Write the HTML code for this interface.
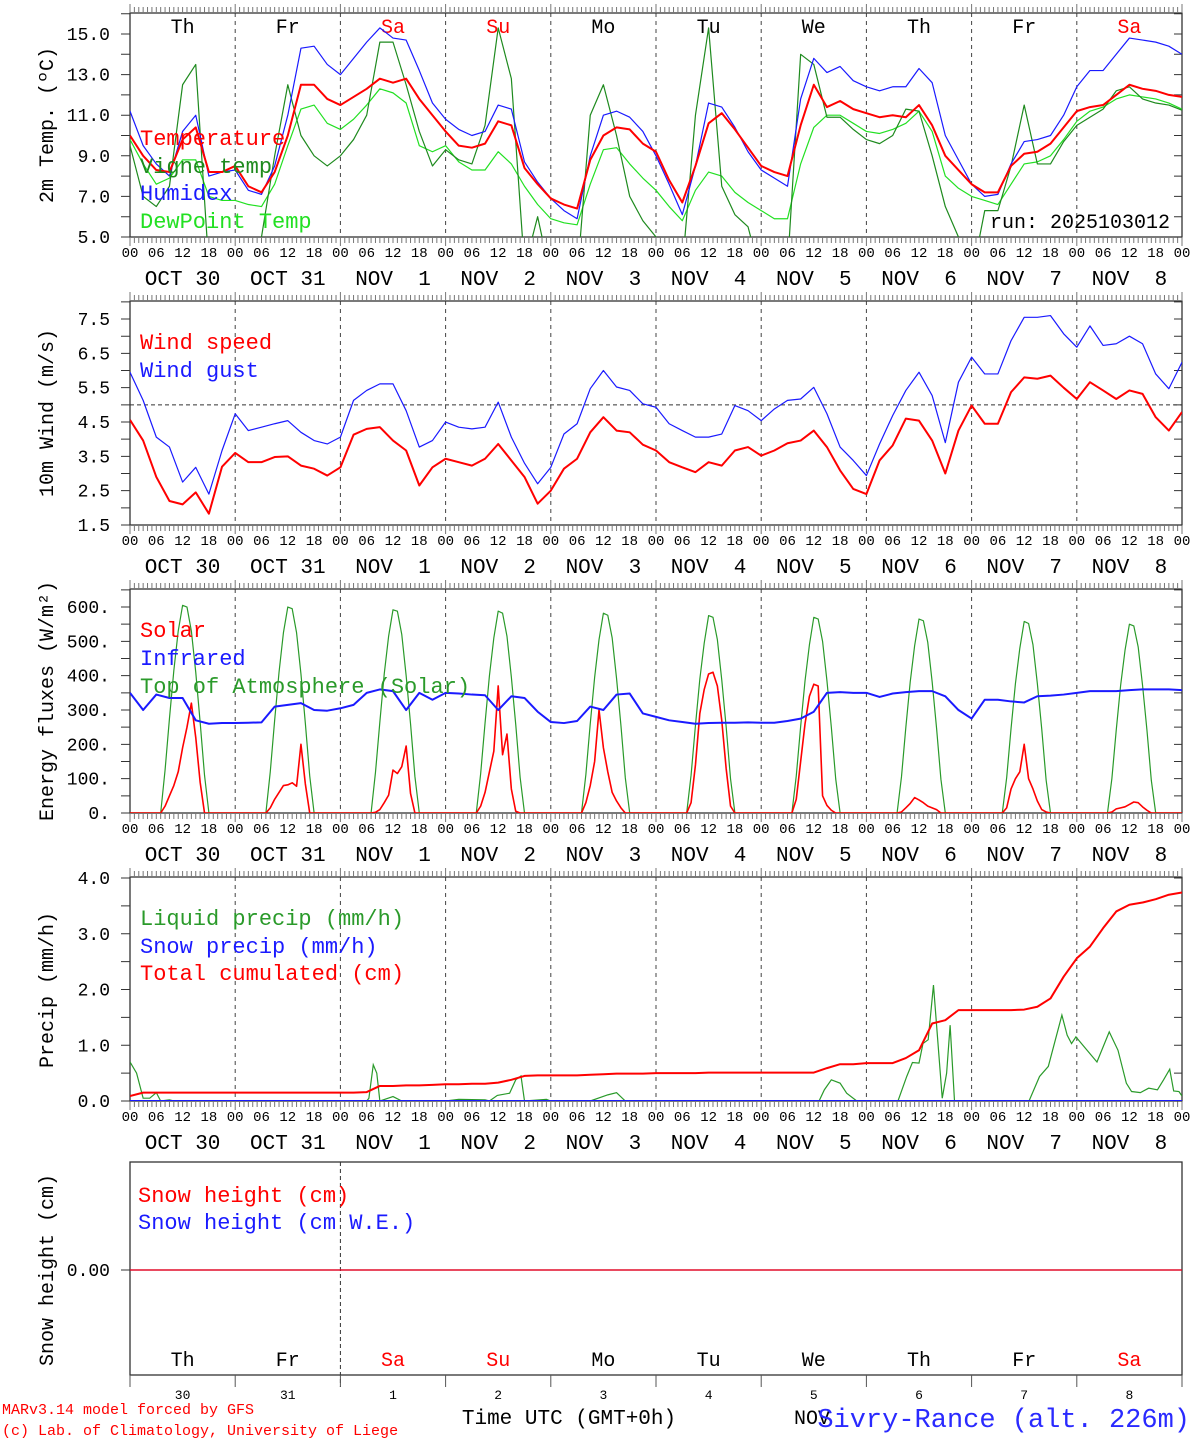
<!DOCTYPE html>
<html><head><meta charset="utf-8"><title>MAR forecast Sivry-Rance</title>
<style>
html,body{margin:0;padding:0;background:#fff;}
svg{display:block;}
text{font-family:"Liberation Mono","DejaVu Sans Mono",monospace;}
</style></head>
<body>
<svg id="chart" xmlns="http://www.w3.org/2000/svg" width="1194" height="1440" viewBox="0 0 1194 1440"></svg>
<script>
// ---------- DATA (3-hourly, 00 UTC Oct 30 .. 00 UTC Nov 9) ----------
const dayNames = ["Th","Fr","Sa","Su","Mo","Tu","We","Th","Fr","Sa"];
const dayNums = ["30","31","1","2","3","4","5","6","7","8"];
const dateLabels = ["OCT 30","OCT 31","NOV  1","NOV  2","NOV  3","NOV  4","NOV  5","NOV  6","NOV  7","NOV  8"];
const hourTicks = ["00","06","12","18"];
const tempVals = [10.0,9.0,8.3,8.2,9.8,10.4,8.2,8.2,
 8.5,7.5,7.2,8.2,10.0,12.5,12.5,11.8,
 11.5,11.9,12.3,12.8,12.6,12.8,11.8,11.0,
 10.2,9.5,9.4,9.6,10.7,10.5,8.4,7.6,
 6.9,6.6,6.4,8.8,10.0,10.4,10.3,9.6,
 9.2,7.8,6.7,8.5,10.6,11.1,10.3,9.4,
 8.5,8.2,8.0,10.5,12.5,11.4,11.7,11.3,
 11.1,10.9,11.0,10.9,11.5,10.5,9.0,8.3,
 7.6,7.2,7.2,8.5,9.1,9.2,9.6,10.4,
 11.2,11.4,11.5,12.0,12.5,12.3,12.2,12.0,11.9];
const vigneVals = [9.5,7.0,6.5,7.5,12.5,13.5,3.5,2.5,
 2.0,3.0,5.0,9.0,12.5,10.0,9.0,8.5,
 9.0,9.8,11.0,14.6,14.6,12.5,10.2,8.5,
 9.3,8.8,8.6,10.5,15.3,12.8,3.5,6.0,
 3.0,2.5,3.0,11.0,12.5,10.0,7.0,5.8,
 5.0,3.0,3.5,11.0,15.3,7.5,6.1,5.5,
 3.0,2.5,3.5,14.0,13.5,10.9,10.9,10.3,
 9.8,9.6,10.0,11.3,11.2,9.0,6.5,5.0,
 3.0,6.3,6.3,8.5,11.5,8.6,8.6,9.7,
 10.5,10.9,11.3,12.2,12.4,11.8,11.6,11.5,11.25];
const humidexVals = [11.2,9.5,8.6,8.0,10.2,11.0,8.0,8.2,
 8.3,7.3,7.1,8.5,11.0,14.3,14.4,13.5,
 13.0,13.8,14.6,15.3,14.8,14.7,13.2,11.6,
 10.8,10.3,10.0,10.2,11.5,11.3,8.7,7.7,
 6.9,6.3,5.9,9.0,11.0,11.2,10.9,10.2,
 9.0,7.6,6.1,8.5,11.6,11.4,10.4,9.2,
 8.3,7.9,7.5,11.8,13.8,13.1,13.4,12.7,
 12.4,12.2,12.4,12.4,13.3,12.6,10.0,8.8,
 7.6,7.0,7.1,8.6,9.7,9.8,10.0,11.0,
 12.4,13.2,13.2,14.0,14.8,14.7,14.6,14.4,14.0];
const dewVals = [9.8,8.6,7.6,7.9,8.8,8.8,7.0,6.8,
 6.8,6.6,6.5,7.6,9.5,11.3,11.5,10.6,
 10.3,10.8,11.5,12.3,12.1,11.6,9.5,9.2,
 9.5,8.7,8.3,8.3,9.2,8.6,7.5,6.6,
 5.9,5.7,5.6,7.6,9.3,9.4,8.6,7.9,
 7.3,6.5,5.8,7.3,8.2,8.0,7.2,6.7,
 6.3,5.9,5.9,8.6,10.4,11.0,11.0,10.6,
 10.2,10.1,10.3,10.6,11.2,10.2,8.0,7.4,
 7.0,6.8,6.6,7.6,8.6,8.7,9.0,9.8,
 10.7,11.2,11.4,11.8,12.0,11.9,11.8,11.6,11.3];
const windVals = [4.56,3.96,2.9,2.2,2.1,2.45,1.83,3.2,
 3.6,3.33,3.33,3.48,3.5,3.23,3.14,2.94,
 3.18,4.13,4.3,4.35,3.96,3.67,2.65,3.18,
 3.43,3.33,3.23,3.43,3.86,3.38,2.9,2.12,
 2.5,3.14,3.43,4.2,4.64,4.25,4.2,3.84,
 3.67,3.33,3.18,3.04,3.33,3.23,3.67,3.77,
 3.52,3.67,3.88,3.96,4.25,3.77,3.09,2.55,
 2.4,3.38,3.82,4.6,4.54,3.96,3.0,4.25,
 4.98,4.45,4.45,5.37,5.8,5.76,5.85,5.5,
 5.17,5.66,5.42,5.17,5.42,5.32,4.64,4.25,4.79];
const gustVals = [5.95,5.13,4.06,3.77,2.75,3.18,2.4,3.67,
 4.74,4.25,4.35,4.45,4.54,4.2,3.96,3.86,
 4.06,5.13,5.42,5.61,5.61,4.83,3.77,3.96,
 4.5,4.35,4.3,4.35,5.08,4.06,3.3,2.7,
 3.18,4.15,4.45,5.47,6.0,5.52,5.42,5.03,
 4.93,4.45,4.25,4.06,4.06,4.15,4.98,4.83,
 4.54,4.88,5.13,5.17,5.51,4.74,3.77,3.38,
 2.94,3.86,4.69,5.42,5.95,5.27,3.9,5.66,
 6.39,5.9,5.9,6.87,7.55,7.55,7.6,7.07,
 6.68,7.3,6.73,6.78,7.0,6.78,5.9,5.47,6.24];
const irVals = [350,300,345,335,335,270,260,262,
 262,263,264,310,315,320,300,298,
 305,315,350,360,355,300,350,330,
 350,348,345,343,300,340,335,295,
 265,262,268,310,300,345,348,290,
 280,270,265,260,262,263,263,264,
 263,263,268,275,295,350,352,350,
 350,338,348,352,355,355,340,300,
 275,330,330,325,322,340,342,345,
 350,355,355,355,358,360,360,360,358];
const cumVals = [0.09,0.15,0.15,0.15,0.15,0.15,0.15,0.15,
 0.15,0.15,0.15,0.15,0.15,0.15,0.15,0.15,
 0.15,0.15,0.16,0.27,0.27,0.28,0.28,0.29,
 0.30,0.30,0.31,0.31,0.33,0.38,0.45,0.46,
 0.46,0.46,0.46,0.47,0.48,0.49,0.49,0.49,
 0.50,0.50,0.50,0.50,0.51,0.51,0.51,0.51,
 0.51,0.51,0.51,0.51,0.51,0.59,0.66,0.66,
 0.68,0.68,0.68,0.77,0.91,1.39,1.45,1.63,
 1.63,1.63,1.63,1.63,1.64,1.69,1.84,2.23,
 2.56,2.77,3.10,3.40,3.52,3.56,3.62,3.70,3.74];
// daily series (00 UTC each day, 11 values)
const snowPrecipVals = [0,0,0,0,0,0,0,0,0,0,0];
const snowHeightVals = [0,0,0,0,0,0,0,0,0,0,0];
const snowWEVals = [0,0,0,0,0,0,0,0,0,0,0];
// hourly daytime radiation, hours 07..18 of each day (W/m2)
const solarDays = [
 [0,20,50,80,120,190,250,320,220,90,0,0],
 [0,15,40,60,80,82,88,78,200,85,0,0],
 [0,2,10,30,52,125,115,135,195,57,0,0],
 [0,20,60,120,180,370,170,230,70,5,0,0],
 [0,30,80,150,300,190,120,60,35,15,0,0],
 [0,30,140,290,360,405,410,370,270,130,20,0],
 [0,40,150,260,340,375,370,50,22,8,0,0],
 [0,3,15,28,45,38,30,20,15,10,0,0],
 [0,15,70,100,120,200,100,70,35,10,3,0],
 [0,3,12,15,18,25,32,30,18,8,0,0]];
const toaDays = [
 [0,125,275,415,530,605,600,530,410,265,110,0],
 [0,120,270,410,525,600,595,525,405,262,108,0],
 [0,118,265,405,515,592,588,520,400,260,106,0],
 [0,115,262,400,510,588,582,515,396,258,104,0],
 [0,112,260,395,505,582,576,510,392,255,102,0],
 [0,110,255,390,495,575,570,505,388,252,100,0],
 [0,108,252,385,490,570,565,500,385,250,99,0],
 [0,105,250,382,487,565,560,497,382,248,98,0],
 [0,103,246,377,480,558,552,490,377,245,96,0],
 [0,100,242,372,474,550,545,484,372,242,95,0]];
// liquid precipitation (hour since start, mm/h)
const liqHours = [0,1.5,3,4.5,6,7,9,10,54,54.5,55.5,56.3,57,60,62,72,75,81,82,83.8,86.6,88,89.2,90,95,96,105,109,111,113,157.2,158.4,160,162,163.5,165.8,175.2,177.2,178.5,180,180.9,182.1,183.3,185.3,186.3,187.1,188.1,205.1,207.5,209.5,212.6,213.8,214.8,215.8,217.7,220.6,223.4,225.4,227.3,228.5,230.5,232.4,234.4,235.8,237.2,238.1,239.3,240];
const liqVals = [0.70,0.5,0.05,0.05,0.15,0,0.02,0,0,0.05,0.65,0.5,0,0.08,0,0,0.03,0.02,0,0.1,0.14,0.38,0.45,0,0.03,0,0,0.11,0.15,0,0,0.2,0.38,0.32,0.14,0,0,0.44,0.69,0.68,1.03,1.1,2.08,0.05,0.5,1.36,0,0,0.44,0.62,1.54,1.18,1.03,1.15,0.97,0.7,1.24,0.91,0.32,0.17,0.15,0.23,0.2,0.38,0.57,0.18,0.17,0.09];

// ---------- LAYOUT ----------
const NS = "http://www.w3.org/2000/svg";
const svg = document.getElementById("chart");
const X0 = 130, X1 = 1182, HOURS = 240;
function xs(h){ return X0 + h*(X1-X0)/HOURS; }
const panels = {
  temp:  {top:13,  bottom:237, y:v=>237-(v-5)*20.3},
  wind:  {top:301, bottom:525, y:v=>525-(v-1.5)*34.33},
  energy:{top:589, bottom:813, y:v=>813-v*0.3433},
  precip:{top:877, bottom:1101,y:v=>1101-v*55.75},
  snow:  {top:1162,bottom:1375,y:v=>1270-v*50}
};
function mk(tag, attrs, parent){
  const el = document.createElementNS(NS, tag);
  for (const k in attrs) el.setAttribute(k, attrs[k]);
  (parent||svg).appendChild(el);
  return el;
}
function txt(str, x, y, size, fill, anchor, parent){
  const t = mk("text", {x:x, y:y, "font-size":size, fill:fill||"#000", "text-anchor":anchor||"start"}, parent);
  t.textContent = str;
  return t;
}
// clip paths
const defs = mk("defs", {});
for (const key in panels){
  const p = panels[key];
  const cp = mk("clipPath", {id:"clip-"+key}, defs);
  mk("rect", {x:X0, y:p.top, width:X1-X0, height:p.bottom-p.top}, cp);
}

function drawFrame(key, withTimeLabels){
  const p = panels[key];
  const g = mk("g", {});
  
  
  // day dashed separators
  for (let d=1; d<10; d++){
    const l = mk("line", {x1:xs(d*24), x2:xs(d*24), y1:p.top, y2:p.bottom, stroke:"#444", "stroke-width":1, "stroke-dasharray":"4,4"}, g);
    
    
  }
  // box
  const r = mk("rect", {x:X0, y:p.top, width:X1-X0, height:p.bottom-p.top, fill:"none", stroke:"#333", "stroke-width":1.3}, g);
  
  
  // hourly ticks top & bottom (outward)
  let dTop = "", dBot = "";
  for (let h=0; h<=HOURS; h++){
    const x = xs(h).toFixed(2);
    const len = (h%24===0) ? 9 : 6;
    dTop += "M"+x+" "+p.top+"V"+(p.top-len);
    dBot += "M"+x+" "+p.bottom+"V"+(p.bottom+len);
  }
  const tt = mk("path", {d:dTop, stroke:"#777", "stroke-width":1, fill:"none"}, g);
  
  
  const tb = mk("path", {d:dBot, stroke:"#777", "stroke-width":1, fill:"none"}, g);
  
  
  if (withTimeLabels){
    for (let d=0; d<=10; d++){
      for (let k=0; k<4; k++){
        if (d===10 && k>0) break;
        const t = txt(hourTicks[k], xs(d*24+k*6), p.bottom+20, 14, "#000", "middle", g);
        
        
      }
    }
    for (let d=0; d<10; d++){
      const t = txt(dateLabels[d], xs(d*24+12), p.bottom+48, 21, "#000", "middle", g);
      t.setAttribute("xml:space","preserve");
      t.style.whiteSpace = "pre";
      
      
    }
  }
}
function drawYAxis(key, ticks, labels, minorStep, minV, maxV, title, titleY){
  const p = panels[key];
  let d = "", dr = "";
  for (let v=minV; v<=maxV+1e-9; v+=minorStep){
    const y = p.y(v).toFixed(2);
    d += "M"+X0+" "+y+"H"+(X0-9);
    dr += "M"+X1+" "+y+"H"+(X1-8);
  }
  const tl = mk("path", {d:d, stroke:"#333", "stroke-width":1, fill:"none"});
  
  
  const tr = mk("path", {d:dr, stroke:"#333", "stroke-width":1, fill:"none"});
  
  
  for (let i=0; i<ticks.length; i++){
    const t = txt(labels[i], 110, p.y(ticks[i])+6, 18, "#000", "end");
    
    
  }
  const tt = txt(title, 0, 0, 20, "#000", "middle");
  tt.setAttribute("transform", "translate(53,"+titleY+") rotate(-90)");
  
  
  return tt;
}
function line3(key, vals, color, width, name){
  const p = panels[key];
  const pts = vals.map((v,i)=> xs(i*3).toFixed(2)+","+p.y(v).toFixed(2)).join(" ");
  const pl = mk("polyline", {points:pts, fill:"none", stroke:color, "stroke-width":width, "stroke-linejoin":"round", "clip-path":"url(#clip-"+key+")"});
  
  
}
function lineDaily(key, vals, color, width, name){
  const p = panels[key];
  const pts = vals.map((v,i)=> xs(i*24).toFixed(2)+","+p.y(v).toFixed(2)).join(" ");
  const pl = mk("polyline", {points:pts, fill:"none", stroke:color, "stroke-width":width, "clip-path":"url(#clip-"+key+")"});
  
  
}
function lineDays(key, days, color, width, name){
  const p = panels[key];
  const pts = [xs(0).toFixed(2)+","+p.y(0).toFixed(2)];
  days.forEach((row,d)=> row.forEach((v,i)=> pts.push(xs(d*24+7+i).toFixed(2)+","+p.y(v).toFixed(2))));
  pts.push(xs(HOURS).toFixed(2)+","+p.y(0).toFixed(2));
  const pl = mk("polyline", {points:pts.join(" "), fill:"none", stroke:color, "stroke-width":width, "stroke-linejoin":"round", "clip-path":"url(#clip-"+key+")"});
  
  
}
function legend(str, x, y, color, name){
  const t = txt(str, x, y, 22, color, "start");
  
  
}

// ---------- PANEL 1: temperature ----------
drawFrame("temp", true);
drawYAxis("temp", [5,7,9,11,13,15], ["5.0","7.0","9.0","11.0","13.0","15.0"], 1, 5, 16, "2m Temp. (ºC)", 125);
for (let d=0; d<10; d++){
  const wk = (dayNames[d]==="Sa"||dayNames[d]==="Su");
  const t = txt(dayNames[d], xs(d*24+12), 33, 20, wk?"#ff0000":"#000", "middle");
  
  
}
line3("temp", dewVals, "#22e022", 1.2, "dewpoint-line");
line3("temp", vigneVals, "#1e8a1e", 1.2, "vigne-temp-line");
line3("temp", humidexVals, "#1a1aff", 1.2, "humidex-line");
line3("temp", tempVals, "#ff0000", 2, "temperature-line");
legend("Temperature", 140, 145, "#ff0000", "legend-temperature");
legend("Vigne temp", 140, 173, "#1e8a1e", "legend-vigne-temp");
legend("Humidex", 140, 200, "#1a1aff", "legend-humidex");
legend("DewPoint Temp", 140, 228, "#22e022", "legend-dewpoint");
const run = txt("run: 2025103012", 1170, 228, 20, "#000", "end");



// ---------- PANEL 2: wind ----------
drawFrame("wind", true);
drawYAxis("wind", [1.5,2.5,3.5,4.5,5.5,6.5,7.5], ["1.5","2.5","3.5","4.5","5.5","6.5","7.5"], 0.5, 1.5, 8.0, "10m Wind (m/s)", 413);
const ref = mk("line", {x1:X0, x2:X1, y1:panels.wind.y(5), y2:panels.wind.y(5), stroke:"#333", "stroke-width":1, "stroke-dasharray":"4,3"});


line3("wind", gustVals, "#1a1aff", 1.2, "wind-gust-line");
line3("wind", windVals, "#ff0000", 2, "wind-speed-line");
legend("Wind speed", 140, 349, "#ff0000", "legend-wind-speed");
legend("Wind gust", 140, 377, "#1a1aff", "legend-wind-gust");

// ---------- PANEL 3: energy ----------
drawFrame("energy", true);
drawYAxis("energy", [0,100,200,300,400,500,600], ["0.","100.","200.","300.","400.","500.","600."], 50, 0, 650, "Energy fluxes (W/m²)", 701);
lineDays("energy", toaDays, "#2a9a2a", 1.2, "toa-solar-line");
lineDays("energy", solarDays, "#ff0000", 1.6, "solar-line");
line3("energy", irVals, "#1a1aff", 2, "infrared-line");
legend("Solar", 140, 637, "#ff0000", "legend-solar");
legend("Infrared", 140, 665, "#1a1aff", "legend-infrared");
legend("Top of Atmosphere (Solar)", 140, 693, "#2a9a2a", "legend-toa");

// ---------- PANEL 4: precip ----------
drawFrame("precip", true);
drawYAxis("precip", [0,1,2,3,4], ["0.0","1.0","2.0","3.0","4.0"], 0.5, 0, 4.0, "Precip (mm/h)", 990);
(function(){
  const p = panels.precip;
  const pts = liqHours.map((h,i)=> xs(h).toFixed(2)+","+p.y(liqVals[i]).toFixed(2)).join(" ");
  const pl = mk("polyline", {points:pts, fill:"none", stroke:"#2a9a2a", "stroke-width":1.2, "clip-path":"url(#clip-precip)"});
  
  
})();
lineDaily("precip", snowPrecipVals, "#1a1aff", 2, "snow-precip-line");
line3("precip", cumVals, "#ff0000", 2, "total-cumulated-line");
legend("Liquid precip (mm/h)", 140, 925, "#2a9a2a", "legend-liquid-precip");
legend("Snow precip (mm/h)", 140, 953, "#1a1aff", "legend-snow-precip");
legend("Total cumulated (cm)", 140, 980, "#ff0000", "legend-total-cumulated");

// ---------- PANEL 5: snow ----------
(function(){
  const p = panels.snow;
  const g = mk("g", {});
  
  
  const box = mk("rect", {x:X0, y:p.top, width:X1-X0, height:p.bottom-p.top, fill:"none", stroke:"#333", "stroke-width":1.3}, g);
  
  
  const dl = mk("line", {x1:xs(48), x2:xs(48), y1:p.top, y2:p.bottom+12, stroke:"#333", "stroke-width":1, "stroke-dasharray":"4,3"}, g);
  
  
  let d = "";
  for (let k=0; k<=10; k++){ const x = xs(k*24).toFixed(2); d += "M"+x+" "+p.bottom+"V"+(p.bottom+12); }
  const tk = mk("path", {d:d, stroke:"#555", "stroke-width":1, fill:"none"}, g);
  
  
  const yt = mk("line", {x1:X0, x2:X0-9, y1:p.y(0), y2:p.y(0), stroke:"#333"}, g);
  
  
  const yl = txt("0.00", 110, p.y(0)+6, 18, "#000", "end", g);
  
  
  const tt = txt("Snow height (cm)", 0, 0, 20, "#000", "middle", g);
  tt.setAttribute("transform", "translate(53,1270) rotate(-90)");
  
  
  for (let k=0; k<10; k++){
    const wk = (dayNames[k]==="Sa"||dayNames[k]==="Su");
    const a = txt(dayNames[k], xs(k*24+12), 1366, 20, wk?"#ff0000":"#000", "middle", g);
    
    
    const b = txt(dayNums[k], xs(k*24+12), 1399, 13, "#000", "middle", g);
    
    
  }
})();
lineDaily("snow", snowWEVals, "#1a1aff", 1.2, "snow-we-line");
lineDaily("snow", snowHeightVals, "#ff0000", 1.2, "snow-height-line");
legend("Snow height (cm)", 138, 1202, "#ff0000", "legend-snow-height");
legend("Snow height (cm W.E.)", 138, 1229, "#1a1aff", "legend-snow-we");

// ---------- FOOTER ----------
const c1 = txt("MARv3.14 model forced by GFS", 2, 1414, 15, "#ff0000", "start");


const c2 = txt("(c) Lab. of Climatology, University of Liege", 2, 1435, 15, "#ff0000", "start");


const xt = txt("Time UTC (GMT+0h)", 569, 1424, 21, "#000", "middle");


const nv = txt("NOV", 812, 1424, 20, "#000", "middle");


const st = txt("Sivry-Rance (alt. 226m)", 1190, 1427, 27, "#2a2aff", "end");


</script>
</body></html>
